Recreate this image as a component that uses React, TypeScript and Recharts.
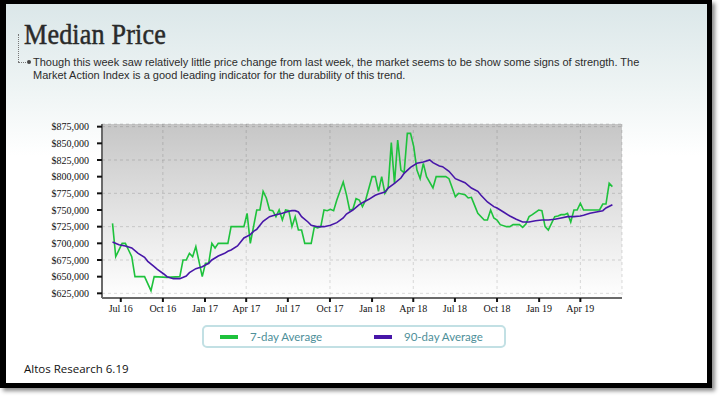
import React from "react";
import {
  CartesianGrid,
  Line,
  LineChart,
  XAxis,
  YAxis,
} from "recharts";

// week offset from the first sample, median price in $k
const sevenDay: [number, number][] = [
  [0, 730], [1, 680], [3, 700], [4, 700], [5, 690], [6, 680], [7, 650], [10, 650],
  [12, 629], [13, 650], [17, 649], [21, 650], [22, 675], [23, 675], [24, 685], [25, 680],
  [26, 695], [28, 650], [29, 670], [30, 670], [31, 700], [32, 693], [33, 700], [36, 700],
  [37, 725], [41, 725], [42, 745], [43, 700], [45, 750], [46, 750], [47, 778], [48, 768],
  [49, 750], [50, 749], [51, 740], [52, 750], [53, 735], [54, 750], [55, 749], [56, 725],
  [57, 740], [58, 720], [59, 720], [60, 700], [62, 700], [63, 725], [64, 723], [65, 725],
  [66, 750], [67, 749], [68, 751], [69, 749], [70, 765], [72, 792], [73, 773], [74, 750],
  [75, 751], [76, 767], [77, 765], [78, 755], [79, 765], [81, 800], [82, 800], [83, 778],
  [84, 800], [85, 775], [86, 783], [87, 851], [88, 790], [89, 855], [90, 810], [91, 806],
  [92, 865], [93, 865], [94, 845], [95, 810], [96, 797], [97, 820], [98, 800], [100, 783],
  [101, 800], [104, 800], [105, 797], [107, 770], [108, 775], [110, 773], [111, 768],
  [112, 769], [113, 757], [114, 745], [116, 735], [117, 735], [118, 750], [119, 738],
  [120, 735], [121, 728], [123, 725], [124, 725], [125, 728], [127, 728], [128, 724],
  [129, 729], [130, 740], [131, 743], [133, 750], [134, 749], [135, 725], [136, 720],
  [138, 740], [139, 741], [140, 743], [141, 743], [142, 745], [143, 732], [144, 750],
  [145, 750], [146, 760], [147, 750], [152, 750], [153, 759], [154, 759], [155, 790],
  [156, 785],
];

const ninetyDay: [number, number][] = [
  [0, 702], [2, 698], [4, 696], [6, 693], [8, 685], [10, 679], [11, 673], [13, 665],
  [14, 661], [16, 654], [17, 650], [19, 647], [21, 647], [23, 651], [24, 656], [26, 662],
  [28, 665], [30, 670], [31, 675], [33, 681], [35, 685], [36, 688], [37, 690], [39, 696],
  [41, 708], [43, 713], [44, 718], [45, 721], [47, 733], [49, 740], [51, 743], [53, 745],
  [55, 748], [56, 749], [57, 749], [58, 747], [59, 740], [61, 732], [62, 727], [64, 725],
  [66, 725], [68, 727], [70, 731], [72, 738], [73, 744], [75, 750], [77, 758], [78, 761],
  [80, 766], [82, 772], [83, 774], [85, 777], [86, 783], [88, 790], [90, 798], [91, 805],
  [93, 814], [95, 820], [97, 822], [99, 825], [100, 821], [102, 816], [103, 815],
  [105, 808], [107, 797], [110, 791], [112, 783], [114, 778], [115, 772], [117, 762],
  [119, 755], [120, 753], [122, 747], [124, 741], [126, 736], [128, 732], [130, 732],
  [132, 734], [134, 735], [136, 735], [138, 736], [140, 738], [142, 740], [144, 740],
  [146, 741], [147, 742], [149, 745], [151, 747], [153, 749], [154, 753], [156, 758],
];

const firstWeek = "2016-06-13";
const xRange = ["2016-05-21", "2019-07-01"];
const quarterTicks = [
  "2016-07-01", "2016-10-01", "2017-01-01", "2017-04-01", "2017-07-01", "2017-10-01",
  "2018-01-01", "2018-04-01", "2018-07-01", "2018-10-01", "2019-01-01", "2019-04-01",
];
const priceTicks = [625000, 650000, 675000, 700000, 725000, 750000, 775000, 800000, 825000, 850000, 875000];

const series = [
  { key: "sevenDay", name: "7-day Average", color: "#1ec23c" },
  { key: "ninetyDay", name: "90-day Average", color: "#4716a8" },
];

const WEEK_MS = 7 * 24 * 3600 * 1000;
const start = Date.parse(firstWeek);
const MONTHS = ["Jan", "Feb", "Mar", "Apr", "May", "Jun", "Jul", "Aug", "Sep", "Oct", "Nov", "Dec"];

function buildRows() {
  const rows = new Map<number, any>();
  const put = (pts: [number, number][], key: string) => {
    pts.forEach(([w, v]) => {
      const row = rows.get(w) ?? { t: start + w * WEEK_MS };
      row[key] = v * 1000;
      rows.set(w, row);
    });
  };
  put(sevenDay, "sevenDay");
  put(ninetyDay, "ninetyDay");
  return [...rows.entries()].sort((a, b) => a[0] - b[0]).map((e) => e[1]);
}

const rows = buildRows();

const fmtDate = (t: number) => {
  const d = new Date(t);
  return `${MONTHS[d.getUTCMonth()]} ${String(d.getUTCFullYear()).slice(2)}`;
};
const fmtPrice = (v: number) => "$" + v.toLocaleString("en-US");

const serif = "'Liberation Serif', 'Times New Roman', serif";

export default function App() {
  return (
    <div
      style={{
        position: "absolute",
        left: 0,
        top: 0,
        width: 721,
        height: 397,
        background: "#fff",
        overflow: "hidden",
      }}
    >
      {/* black screenshot frame */}
      <div
        style={{
          position: "absolute",
          left: 0,
          top: 0,
          width: 712,
          height: 388,
          boxSizing: "border-box",
          borderStyle: "solid",
          borderColor: "#000",
          borderWidth: "4px 5px 5px 6px",
          boxShadow: "3px 3px 4px rgba(0,0,0,0.45)",
          background: "linear-gradient(to bottom, #dbe7e9 0%, #eef4f4 22%, #ffffff 40%)",
        }}
      />

      <div
        style={{
          position: "absolute",
          left: 24,
          top: 17,
          fontFamily: serif,
          fontSize: 30,
          color: "#2a2a2a",
          transform: "scaleX(0.87)",
          transformOrigin: "left top",
          whiteSpace: "nowrap",
          letterSpacing: 0.2,
          WebkitTextStroke: "0.5px #2a2a2a",
        }}
      >
        Median Price
      </div>
      <div
        style={{
          position: "absolute",
          left: 18,
          top: 34,
          height: 28,
          borderLeft: "1px dotted #777",
        }}
      />
      <div
        style={{ position: "absolute", left: 18, top: 62, width: 8, borderTop: "1px dotted #777" }}
      />
      <div
        style={{
          position: "absolute",
          left: 27,
          top: 60,
          width: 4,
          height: 4,
          borderRadius: 2,
          background: "#444",
        }}
      />
      <div
        style={{
          position: "absolute",
          left: 33,
          top: 56,
          fontFamily: "'Liberation Sans', Arial, sans-serif",
          fontSize: 11,
          lineHeight: "13px",
          color: "#2c2c2c",
          whiteSpace: "nowrap",
        }}
      >
        <div>
          Though this week saw relatively little price change from last week, the market seems to be show some signs of strength. The
        </div>
        <div>Market Action Index is a good leading indicator for the durability of this trend.</div>
      </div>

      <div style={{ position: "absolute", left: 0, top: 110 }}>
        <LineChart
          width={640}
          height={210}
          data={rows}
          margin={{ top: 14, right: 18, bottom: 0, left: 0 }}
        >
          <defs>
            <linearGradient id="plotBg" x1="0" y1="0" x2="0" y2="1">
              <stop offset="0%" stopColor="#c6c6c6" />
              <stop offset="100%" stopColor="#ffffff" />
            </linearGradient>
          </defs>
          <CartesianGrid
            fill="url(#plotBg)"
            fillOpacity={1}
            stroke="rgba(0,0,0,0.14)"
            strokeDasharray="3 3"
          />
          <XAxis
            dataKey="t"
            type="number"
            scale="linear"
            domain={xRange.map((d) => Date.parse(d))}
            ticks={quarterTicks.map((d) => Date.parse(d))}
            tickFormatter={fmtDate}
            height={22}
            tickSize={4}
            tickMargin={3}
            axisLine={{ stroke: "#6a6a6a", strokeWidth: 2 }}
            tickLine={{ stroke: "#111", strokeWidth: 2 }}
            tick={{ fill: "#111", fontSize: 10, fontFamily: serif }}
            allowDataOverflow
          />
          <YAxis
            type="number"
            domain={[618000, 879000]}
            ticks={priceTicks}
            tickFormatter={fmtPrice}
            width={102}
            tickSize={5}
            tickMargin={8}
            axisLine={{ stroke: "#6a6a6a", strokeWidth: 2 }}
            tickLine={{ stroke: "#111", strokeWidth: 2 }}
            tick={{ fill: "#111", fontSize: 10, fontFamily: serif }}
            allowDataOverflow
          />
          {series.map((s) => (
            <Line
              key={s.key}
              type="linear"
              dataKey={s.key}
              name={s.name}
              stroke={s.color}
              strokeWidth={1.6}
              dot={false}
              connectNulls
              isAnimationActive={false}
            />
          ))}
        </LineChart>
      </div>

      {/* legend */}
      <div
        style={{
          position: "absolute",
          left: 202,
          top: 325,
          width: 304,
          height: 23,
          boxSizing: "border-box",
          border: "2px solid #c2e0e4",
          borderRadius: 5,
          background: "#fff",
        }}
      >
        {series.map((s, i) => (
          <div
            key={s.key}
            style={{ position: "absolute", left: 16 + i * 154, top: 0, height: 19, display: "flex", alignItems: "center" }}
          >
            <span style={{ display: "inline-block", width: 18, height: 4, background: s.color }} />
            <span
              style={{
                marginLeft: 12,
                fontFamily: "Lato, sans-serif",
                fontSize: 11.5,
                color: "#4e8f99",
              }}
            >
              {s.name}
            </span>
          </div>
        ))}
      </div>

      <div
        style={{
          position: "absolute",
          left: 24,
          top: 361,
          fontFamily: "'Open Sans', sans-serif",
          fontSize: 11.5,
          color: "#111",
        }}
      >
        Altos Research 6.19
      </div>
    </div>
  );
}
